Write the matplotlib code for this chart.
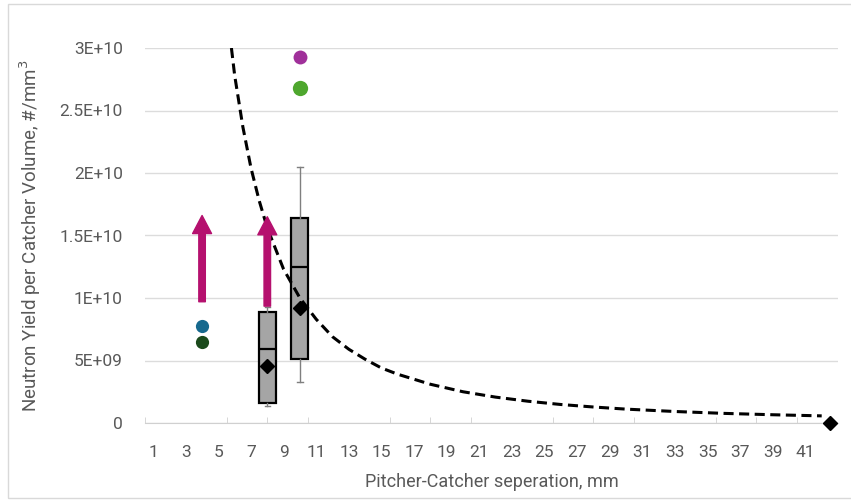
import matplotlib
matplotlib.use("Agg")
import matplotlib.pyplot as plt
from matplotlib.patches import Rectangle

plt.rcParams['font.family'] = ['Roboto', 'DejaVu Sans']

# measured single shots
shot_x = [4, 4, 10, 10]
shot_y = [7.75e9, 6.5e9, 2.93e10, 2.68e10]
shot_colors = ['#17698e', '#1b4a1c', '#a0309a', '#4ea72e']
shot_sizes = [9.5, 9.5, 10, 11]

# box statistics per separation
box_x = [8, 10]
box_q1 = [1.6e9, 5.1e9]
box_med = [5.9e9, 1.25e10]
box_q3 = [8.9e9, 1.64e10]
box_lo = [1.4e9, 3.3e9]
box_hi = [9.3e9, 2.05e10]
box_mean = [4.6e9, 9.2e9]

# single far point
far_x = [42.5]
far_y = [0.0]

# lower-bound arrows (start, end)
arrow_x = [4, 8]
arrow_y0 = [9.7e9, 9.35e9]
arrow_y1 = [1.66e10, 1.65e10]

# power-law trend
trend_x = [5.8, 6, 6.5, 7, 7.5, 8, 9, 10, 11, 12, 13, 14, 15, 16, 18, 20,
           22, 24, 26, 28, 30, 33, 36, 39, 42]
trend_y = [3.0e10, 2.78e10, 2.37e10, 2.04e10, 1.78e10, 1.56e10, 1.23e10,
           1.0e10, 8.3e9, 6.9e9, 5.9e9, 5.1e9, 4.4e9, 3.9e9, 3.1e9, 2.5e9,
           2.07e9, 1.74e9, 1.48e9, 1.28e9, 1.11e9, 9.2e8, 7.7e8, 6.6e8, 5.7e8]

xtick_vals = list(range(1, 42, 2))
ytick_vals = [0, 5e9, 1e10, 1.5e10, 2e10, 2.5e10, 3e10]
ytick_labels = ['0', '5E+09', '1E+10', '1.5E+10', '2E+10', '2.5E+10', '3E+10']

grey_txt = '#595959'

fig = plt.figure(figsize=(8.51, 5.01), dpi=100)
fig.patches.append(Rectangle((8 / 851, 3 / 501), 1.0, 494 / 501,
                             transform=fig.transFigure, fill=False,
                             edgecolor='#d9d9d9', lw=1.0))
ax = fig.add_axes([145 / 851, 1 - 423 / 501, 693 / 851, 375 / 501])

ax.set_xlim(0.5, 43)
ax.set_ylim(0, 3e10)

for s in ['top', 'right', 'left']:
    ax.spines[s].set_visible(False)
ax.spines['bottom'].set_color('#d0d0d0')
ax.yaxis.grid(True, color='#dcdcdc', lw=1.0)
ax.set_axisbelow(True)

# boxes
stats = []
for i in range(len(box_x)):
    stats.append(dict(med=box_med[i], q1=box_q1[i], q3=box_q3[i],
                      whislo=box_lo[i], whishi=box_hi[i], fliers=[]))
ax.bxp(stats, positions=box_x, widths=1.05, patch_artist=True,
       showfliers=False, manage_ticks=False,
       boxprops=dict(facecolor='#a5a5a5', edgecolor='black', lw=1.6),
       medianprops=dict(color='black', lw=1.6),
       whiskerprops=dict(color='#7f7f7f', lw=1.0),
       capprops=dict(color='#7f7f7f', lw=1.0), capwidths=0.33)

# trend line
ax.plot(trend_x, trend_y, ls=(0, (3.3, 1.8)), color='black', lw=2.2,
        clip_on=True, zorder=4)

# means and the far point
ax.plot(box_x, box_mean, 'D', color='black', ms=7.5, zorder=5)
ax.plot(far_x, far_y, 'D', color='black', ms=7.5, zorder=5, clip_on=False)

for x, y, c, s in zip(shot_x, shot_y, shot_colors, shot_sizes):
    ax.plot([x], [y], 'o', color=c, ms=s, mec='none', zorder=5)

for x, y0, y1 in zip(arrow_x, arrow_y0, arrow_y1):
    ax.annotate('', xy=(x, y1), xytext=(x, y0),
                arrowprops=dict(arrowstyle='simple,head_width=1.05,head_length=1.0,tail_width=0.36',
                                mutation_scale=13, color='#b5106e',
                                shrinkA=0, shrinkB=0), zorder=6)

ax.set_xticks(xtick_vals)
ax.set_xticklabels([str(v) for v in xtick_vals])
ax.tick_params(axis='x', which='major', length=0, pad=16, labelsize=12.5,
               labelcolor=grey_txt)
ax.set_xticks([0.5 + 2.5 * k for k in range(17)], minor=True)
ax.tick_params(axis='x', which='minor', direction='in', length=4,
               color='#d0d0d0')

ax.set_yticks(ytick_vals)
ax.set_yticklabels(ytick_labels)
ax.tick_params(axis='y', length=0, pad=16, labelsize=12.5,
               labelcolor=grey_txt)

ax.set_xlabel('Pitcher-Catcher seperation, mm', fontsize=13,
              color=grey_txt, labelpad=9)
ax.set_ylabel('Neutron Yield per Catcher Volume, #/mm$^3$', fontsize=13.5,
              color=grey_txt, labelpad=12)

fig.savefig('out.png', dpi=100)
